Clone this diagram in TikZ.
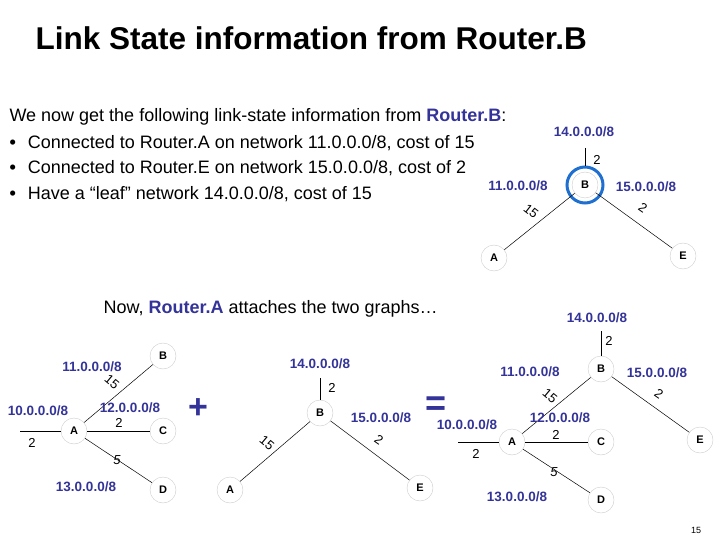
\documentclass[tikz,border=0pt]{standalone}
\usepackage{fontspec}
\setmainfont{Liberation Sans}
\definecolor{nblue}{HTML}{333399}
\definecolor{ring}{HTML}{1F6FD0}
\begin{document}
\begin{tikzpicture}[x=1pt,y=-1pt,
  rt/.style={circle,draw=black!20,fill=white,minimum size=26pt,inner sep=0pt,font=\fontsize{11}{11}\selectfont\bfseries},
  net/.style={text=nblue,font=\fontsize{13.5}{14}\selectfont\bfseries},
  cost/.style={font=\fontsize{13}{13}\selectfont},
  ln/.style={draw,line width=0.5pt},
  body/.style={font=\fontsize{18}{18}\selectfont,anchor=west}]
\useasboundingbox (0,0) rectangle (720,540);
\node[anchor=west,font=\fontsize{31.5}{32}\selectfont\bfseries] (title) at (32,38) {Link State information from Router.B};
\node[body] (t0) at (6,117) {We now get the following link-state information from \textcolor{nblue}{\textbf{Router.B}}:};
\node[body] (t1) at (6,143) {\textbf{\textbullet}\hspace{12pt}Connected to Router.A on network 11.0.0.0/8, cost of 15};
\node[body] (t2) at (6,168) {\textbf{\textbullet}\hspace{12pt}Connected to Router.E on network 15.0.0.0/8, cost of 2};
\node[body] (t3) at (6,194) {\textbf{\textbullet}\hspace{12pt}Have a “leaf” network 14.0.0.0/8, cost of 15};
\node[body] (t4) at (100,309) {Now, \textcolor{nblue}{\textbf{Router.A}} attaches the two graphs…};
% top graph
\node[rt] (B1) at (585,185) {B};
\node[rt] (A1) at (494,258) {A};
\node[rt] (E1) at (683,256) {E};
\draw[ring,line width=3pt] (B1) circle (18);
\coordinate (L1) at (585,148);
\draw[ln] (L1) -- (585,166);
\draw[ln] (B1) -- (A1); \draw[ln] (B1) -- (E1);
\node[net] (n14a) at (584,132) {14.0.0.0/8};
\node[cost] at (597,160) {2};
\node[net] at (518,186) {11.0.0.0/8};
\node[net] at (646,187) {15.0.0.0/8};
\node[cost,rotate=-38] at (531,211) {15};
\node[cost,rotate=-35] at (643,208) {2};
% left graph
\node[rt] (B2) at (163,356) {B};
\node[rt] (A2) at (74,431) {A};
\node[rt] (C2) at (163,431) {C};
\node[rt] (D2) at (163,490) {D};
\coordinate (L2) at (20,431);
\draw[ln] (L2) -- (A2); \draw[ln] (A2) -- (B2); \draw[ln] (A2) -- (C2); \draw[ln] (A2) -- (D2);
\node[net] at (92,367) {11.0.0.0/8};
\node[net] at (38,411) {10.0.0.0/8};
\node[net] at (130,408) {12.0.0.0/8};
\node[net] at (86,487) {13.0.0.0/8};
\node[cost] at (119,423) {2};
\node[cost] at (32,443) {2};
\node[cost,rotate=-40] at (112,382) {15};
\node[cost] at (117,460) {\itshape 5};
\node[text=nblue,font=\fontsize{34}{34}\selectfont\bfseries] (plus) at (198,409) {+};
% middle graph
\node[rt] (B3) at (320,413) {B};
\node[rt] (A3) at (230,490) {A};
\node[rt] (E3) at (420,488) {E};
\coordinate (L3) at (320,378);
\draw[ln] (L3) -- (B3); \draw[ln] (B3) -- (A3); \draw[ln] (B3) -- (E3);
\node[net] at (320,364) {14.0.0.0/8};
\node[cost] at (332,388) {2};
\node[net] at (381,418) {15.0.0.0/8};
\node[cost,rotate=-40] at (267,443) {15};
\node[cost,rotate=-35] at (379,440) {2};
\node[text=nblue,font=\fontsize{36}{36}\selectfont\bfseries] (eq) at (436,406) {=};
% right graph
\node[rt] (B4) at (601,369) {B};
\node[rt] (A4) at (512,442) {A};
\node[rt] (C4) at (601,442) {C};
\node[rt] (D4) at (601,500) {D};
\node[rt] (E4) at (700,440) {E};
\coordinate (L4a) at (601,331);
\coordinate (L4b) at (458,442);
\draw[ln] (L4a) -- (B4); \draw[ln] (L4b) -- (A4);
\draw[ln] (A4) -- (B4); \draw[ln] (A4) -- (C4); \draw[ln] (A4) -- (D4); \draw[ln] (B4) -- (E4);
\node[net] at (597,318) {14.0.0.0/8};
\node[cost] at (609,341) {2};
\node[net] at (530,372) {11.0.0.0/8};
\node[net] at (657,373) {15.0.0.0/8};
\node[cost,rotate=-40] at (550,396) {15};
\node[cost,rotate=-35] at (659,394) {2};
\node[net] at (467,425) {10.0.0.0/8};
\node[net] at (560,418) {12.0.0.0/8};
\node[cost] at (556,435) {2};
\node[cost] at (476,454) {2};
\node[cost] at (554,472) {\itshape 5};
\node[net] at (517,497) {13.0.0.0/8};
\node[font=\fontsize{9}{9}\selectfont] (pg) at (696,530) {15};
\end{tikzpicture}
\end{document}
